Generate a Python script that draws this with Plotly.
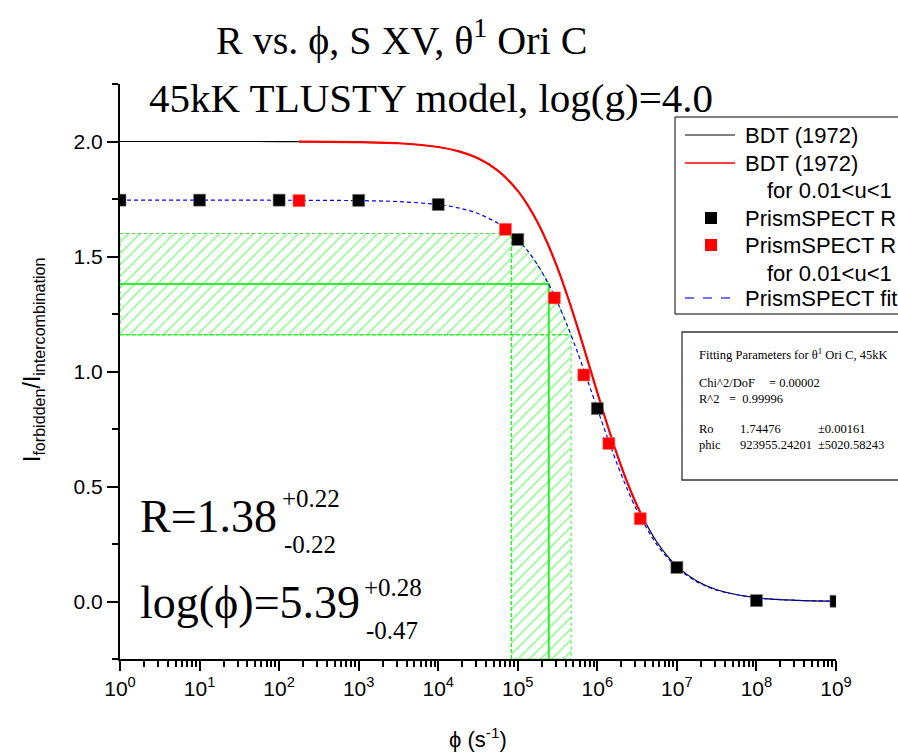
import numpy as np
import plotly.graph_objects as go

W, H = 898, 755
ML, MR, MT, MB = 120, 62, 84, 96

# ---------------- data ----------------
black_log_phi = [0, 1, 2, 3, 4, 5, 6, 7, 8, 9]
black_R = [1.745, 1.745, 1.745, 1.744, 1.726, 1.574, 0.839, 0.148, 0.004, 0.001]

red_log_phi = [2.25, 4.845, 5.46, 5.83, 6.145, 6.54]
red_R = [1.743, 1.618, 1.320, 0.985, 0.687, 0.360]

fit_log_phi = [0, 1, 2, 3, 3.5, 4, 4.25, 4.5, 4.75, 4.875, 5, 5.125, 5.25, 5.375, 5.5,
               5.625, 5.75, 5.875, 6, 6.125, 6.25, 6.375, 6.5, 6.75, 7, 7.25, 7.5, 8, 8.5, 9]
fit_R = [1.7448, 1.7447, 1.7446, 1.7429, 1.7388, 1.7261, 1.7118, 1.6870, 1.6447, 1.6138,
         1.5744, 1.5247, 1.4632, 1.3885, 1.2999, 1.1980, 1.0847, 0.9632, 0.8380, 0.7142,
         0.5967, 0.4893, 0.3946, 0.2463, 0.1476, 0.0862, 0.0495, 0.0160, 0.0051, 0.0016]

bdt_log_phi = [0, 1, 2, 3, 3.5, 4, 4.25, 4.5, 4.75, 5, 5.125, 5.25, 5.375, 5.5, 5.625,
               5.75, 5.875, 6, 6.125, 6.25, 6.375, 6.5, 6.75, 7, 7.25, 7.5, 8, 8.5, 9]
bdt_R = [2.0, 2.0, 1.9998, 1.9976, 1.9924, 1.9762, 1.9581, 1.9268, 1.8734, 1.7855,
         1.7237, 1.6477, 1.5563, 1.4491, 1.3271, 1.1933, 1.0518, 0.9083, 0.7684, 0.6374,
         0.5186, 0.4165, 0.2577, 0.1536, 0.0894, 0.0513, 0.0165, 0.0053, 0.0017]

bdt_red_log_phi = [2.25, 3, 3.5, 4, 4.25, 4.5, 4.75, 5, 5.125, 5.25, 5.375, 5.5, 5.625,
                   5.75, 5.875, 6, 6.125, 6.25, 6.375, 6.5, 6.56]
bdt_red_R = [1.9998, 1.9976, 1.9924, 1.9762, 1.9581, 1.9268, 1.8734, 1.7855, 1.7237, 1.6477,
             1.5563, 1.4491, 1.3271, 1.1933, 1.0518, 0.9083, 0.7684, 0.6374, 0.5186, 0.4165, 0.3728]

R_best, R_plus, R_minus = 1.38, 0.22, 0.22
logphi_best, logphi_plus, logphi_minus = 5.39, 0.28, 0.47

x_tick_exponents = [0, 1, 2, 3, 4, 5, 6, 7, 8, 9]
y_tick_vals = [0.0, 0.5, 1.0, 1.5, 2.0]
y_tick_text = ["0.0", "0.5", "1.0", "1.5", "2.0"]
y_range = [-0.25, 2.25]

fit_params_title = "Fitting Parameters for θ<sup>1</sup> Ori C, 45kK"
chi2 = "0.00002"
r2 = "0.99996"
Ro_val, Ro_err = "1.74476", "±0.00161"
phic_val, phic_err = "923955.24201", "±5020.58243"

# ---------------- helpers ----------------
def ph(v):
    return 10.0 ** np.asarray(v, dtype=float)

def px(x):
    return (x - ML) / (W - ML - MR)

def py(y):
    return (H - MB - y) / (H - MT - MB)

GREEN = "#2cf02c"
SERIF = "Liberation Serif, Times New Roman, serif"
SANS = "Liberation Sans, Arial, sans-serif"
PHI = "\u03d5"

fig = go.Figure()

# hatched uncertainty region (L-shape bounded by fit curve)
R_hi, R_lo = R_best + R_plus, R_best - R_minus
L_hi, L_lo = logphi_best + logphi_plus, logphi_best - logphi_minus
mid = [(l, r) for l, r in zip(fit_log_phi, fit_R) if L_lo < l < L_hi]
poly_L = [0, L_lo] + [m[0] for m in mid] + [L_hi, L_hi, L_lo, L_lo, 0, 0]
poly_R = [R_hi, R_hi] + [m[1] for m in mid] + [R_lo, y_range[0], y_range[0], R_lo, R_lo, R_hi]
fig.add_trace(go.Scatter(
    x=ph(poly_L), y=poly_R, mode="lines", fill="toself",
    fillcolor="rgba(0,0,0,0)",
    fillpattern=dict(shape="/", fgcolor=GREEN, bgcolor="rgba(255,255,255,0)", size=8, solidity=0.2),
    line=dict(color=GREEN, width=1, dash="dot"), showlegend=False, hoverinfo="skip"))
# dashed band edges
fig.add_trace(go.Scatter(x=ph([L_lo, L_lo]), y=[y_range[0], R_hi], mode="lines",
                         line=dict(color=GREEN, width=1.5, dash="4px,2px"), showlegend=False, hoverinfo="skip"))
fig.add_trace(go.Scatter(x=ph([0, L_hi]), y=[R_lo, R_lo], mode="lines",
                         line=dict(color=GREEN, width=1.5, dash="4px,2px"), showlegend=False, hoverinfo="skip"))
# best-value solid lines
fig.add_trace(go.Scatter(x=ph([0, logphi_best, logphi_best]), y=[R_best, R_best, y_range[0]], mode="lines",
                         line=dict(color=GREEN, width=2), showlegend=False, hoverinfo="skip"))

# curves
fig.add_trace(go.Scatter(x=ph(bdt_log_phi), y=bdt_R, mode="lines", name="BDT (1972)",
                         line=dict(color="black", width=1.2, shape="spline", smoothing=0.8), showlegend=False))
fig.add_trace(go.Scatter(x=ph(bdt_red_log_phi), y=bdt_red_R, mode="lines", name="BDT (1972) for 0.01<u<1",
                         line=dict(color="#ff0000", width=2.2, shape="spline", smoothing=0.8), showlegend=False))
fig.add_trace(go.Scatter(x=ph(fit_log_phi), y=fit_R, mode="lines", name="PrismSPECT fit",
                         line=dict(color="#0000ff", width=1.2, dash="4px,3px", shape="spline", smoothing=0.8),
                         showlegend=False))
# markers
fig.add_trace(go.Scatter(x=ph(black_log_phi), y=black_R, mode="markers", name="PrismSPECT R",
                         marker=dict(symbol="square", size=12, color="black", line=dict(width=0.6, color="#777")),
                         showlegend=False))
fig.add_trace(go.Scatter(x=ph(red_log_phi), y=red_R, mode="markers", name="PrismSPECT R for 0.01<u<1",
                         marker=dict(symbol="square", size=12, color="#ff0000", line=dict(width=0.6, color="#ff6666")),
                         showlegend=False))

ann = []
shapes = []

# titles
ann.append(dict(text=f"R vs. {PHI}, S XV, θ<sup>1</sup> Ori C", x=px(401), y=py(38), xref="paper", yref="paper",
                xanchor="center", yanchor="middle", showarrow=False, font=dict(family=SERIF, size=40, color="black")))
ann.append(dict(text="45kK TLUSTY model, log(g)=4.0", x=px(431), y=py(98), xref="paper", yref="paper",
                xanchor="center", yanchor="middle", showarrow=False, font=dict(family=SERIF, size=41, color="black")))
# axis titles
ann.append(dict(text="I<sub>forbidden</sub>/I<sub>intercombination</sub>", x=px(33), y=py(360),
                xref="paper", yref="paper", xanchor="center", yanchor="middle", textangle=-90,
                showarrow=False, font=dict(family=SANS, size=23, color="black")))
ann.append(dict(text=f"{PHI} (s<sup>-1</sup>)", x=px(478), y=py(738), xref="paper", yref="paper",
                xanchor="center", yanchor="middle", showarrow=False, font=dict(family=SANS, size=22, color="black")))

# result text
def addtxt(t, x, y, size, anchor="left"):
    ann.append(dict(text=t, x=px(x), y=py(y), xref="paper", yref="paper", xanchor=anchor, yanchor="middle",
                    showarrow=False, font=dict(family=SERIF, size=size, color="black")))

addtxt(f"R={R_best:.2f}", 138, 516, 46)
addtxt(f"+{R_plus:.2f}", 280, 498, 25)
addtxt(f"-{R_minus:.2f}", 282, 544, 25)
addtxt(f"log({PHI})={logphi_best:.2f}", 138, 602, 46)
addtxt(f"+{logphi_plus:.2f}", 362, 587, 25)
addtxt(f"-{logphi_minus:.2f}", 364, 630, 25)

# legend (drawn by hand, clipped by the page edge like the original)
shapes.append(dict(type="rect", xref="paper", yref="paper", x0=px(675), x1=px(910), y0=py(314), y1=py(117),
                   line=dict(color="black", width=1), fillcolor="white", layer="above"))
legend_rows = [
    ("line", "black", "solid", "BDT (1972)", 135),
    ("line", "#ff0000", "solid", "BDT (1972)", 163),
    (None, None, None, "for 0.01&lt;u&lt;1", 190),
    ("sq", "black", None, "PrismSPECT R", 218),
    ("sq", "#ff0000", None, "PrismSPECT R", 245),
    (None, None, None, "for 0.01&lt;u&lt;1", 273),
    ("line", "#4444ff", "dash", "PrismSPECT fit", 298),
]
for kind, col, dash, label, yy in legend_rows:
    if kind == "line":
        shapes.append(dict(type="line", xref="paper", yref="paper", x0=px(685), x1=px(735), y0=py(yy), y1=py(yy),
                           line=dict(color=col, width=1.4 if col != "black" else 1, dash=dash), layer="above"))
    elif kind == "sq":
        shapes.append(dict(type="rect", xref="paper", yref="paper", x0=px(705), x1=px(717), y0=py(yy + 6), y1=py(yy - 6),
                           line=dict(width=0), fillcolor=col, layer="above"))
    xx = 743 if kind else 765
    ann.append(dict(text=label, x=px(xx), y=py(yy), xref="paper", yref="paper", xanchor="left", yanchor="middle",
                    showarrow=False, font=dict(family=SANS, size=22, color="black")))

# fitting parameter box
shapes.append(dict(type="rect", xref="paper", yref="paper", x0=px(682), x1=px(910), y0=py(480), y1=py(332),
                   line=dict(color="#333333", width=1.3), fillcolor="white", layer="above"))
def boxtxt(t, x, y):
    ann.append(dict(text=t, x=px(x), y=py(y), xref="paper", yref="paper", xanchor="left", yanchor="middle",
                    showarrow=False, font=dict(family=SERIF, size=12.5, color="black")))
boxtxt(fit_params_title, 697, 354)
boxtxt("Chi^2/DoF", 697, 383)
boxtxt("= " + chi2, 767, 383)
boxtxt("R^2", 697, 399)
boxtxt("=  " + r2, 727, 399)
boxtxt("Ro", 697, 429)
boxtxt(Ro_val, 738, 429)
boxtxt(Ro_err, 816, 429)
boxtxt("phic", 697, 445)
boxtxt(phic_val, 738, 445)
boxtxt(phic_err, 816, 445)

fig.update_layout(
    width=W, height=H,
    margin=dict(l=ML, r=MR, t=MT, b=MB, autoexpand=False),
    paper_bgcolor="white", plot_bgcolor="white",
    showlegend=False,
    annotations=ann, shapes=shapes,
    font=dict(family=SANS, color="black"),
)
fig.update_xaxes(
    type="log", range=[0, 9],
    tickvals=[10 ** e for e in x_tick_exponents],
    ticktext=[f"10<sup>{e}</sup>" for e in x_tick_exponents],
    tickfont=dict(family=SANS, size=21, color="black"),
    showline=True, linecolor="black", linewidth=2,
    ticks="outside", ticklen=10, tickwidth=2, tickcolor="black",
    minor=dict(ticks="outside", ticklen=6, tickwidth=1.5, tickcolor="black", dtick="D1", showgrid=False),
    showgrid=False, zeroline=False, mirror=False,
)
fig.update_yaxes(
    range=y_range,
    tickvals=y_tick_vals, ticktext=y_tick_text,
    tickfont=dict(family=SANS, size=21, color="black"),
    showline=True, linecolor="black", linewidth=2,
    ticks="outside", ticklen=11, tickwidth=2, tickcolor="black",
    minor=dict(ticks="outside", ticklen=6, tickwidth=1.5, tickcolor="black", dtick=0.25, showgrid=False),
    showgrid=False, zeroline=False, mirror=False,
)

fig.write_html("out.html", config={"displayModeBar": False},
               post_script="document.body.style.margin='0';document.body.style.overflow='hidden';")
